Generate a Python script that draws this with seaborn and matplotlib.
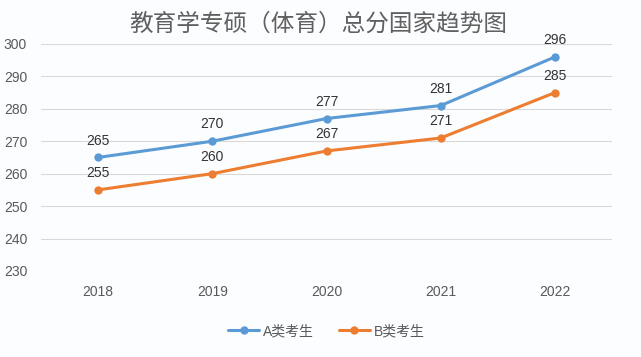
import pandas as pd
import numpy as np
import matplotlib
matplotlib.use("Agg")
import matplotlib.pyplot as plt
import seaborn as sns

years = ["2018", "2019", "2020", "2021", "2022"]
score_a = [265, 270, 277, 281, 296]
score_b = [255, 260, 267, 271, 285]
series_names = ["A类考生", "B类考生"]
title = "教育学专硕（体育）总分国家趋势图"

df = pd.DataFrame({
    "year": years * 2,
    "score": score_a + score_b,
    "group": [series_names[0]] * len(years) + [series_names[1]] * len(years),
})

sns.set_theme(style="white")
plt.rcParams['font.family'] = ['Liberation Sans', 'Noto Sans CJK SC', 'DejaVu Sans']

palette = {series_names[0]: "#5B9BD5", series_names[1]: "#ED7D31"}
text_color = "#595959"

fig = plt.figure(figsize=(6.41, 3.57), dpi=100)
fig.patch.set_facecolor("#FCFDFF")
ax = fig.add_axes([0.064, 0.241, 0.891, 0.636])
ax.set_facecolor("#FCFDFF")

sns.lineplot(data=df, x="year", y="score", hue="group", palette=palette,
             marker="o", markersize=6, markeredgewidth=0, linewidth=2.2,
             ax=ax, legend=True)

ax.set_ylim(230, 300)
ax.set_xlim(-0.5, len(years) - 0.5)
ax.set_yticks(np.arange(230, 301, 10))
ax.grid(axis="y", color="#D9D9D9", linewidth=0.8)
ax.set_axisbelow(True)
for s in ax.spines.values():
    s.set_visible(False)
ax.tick_params(axis="both", length=0, labelsize=10, colors=text_color)
ax.tick_params(axis="x", pad=10)
ax.tick_params(axis="y", pad=10)
ax.set_xlabel("")
ax.set_ylabel("")

# data labels
for vals in (score_a, score_b):
    for i, v in enumerate(vals):
        ax.annotate(str(v), (i, v), xytext=(0, 7), textcoords="offset points",
                    ha="center", va="bottom", fontsize=10, color="#333333")

fig.suptitle(title, x=0.497, y=0.965, fontsize=17, color="#606060",
             family=['Noto Sans CJK SC'], fontweight="light")

handles, labels = ax.get_legend_handles_labels()
ax.legend(handles, labels, loc="center", bbox_to_anchor=(0.5, -0.265),
          ncol=2, frameon=False, fontsize=10, labelcolor=text_color,
          handlelength=2.2, columnspacing=1.8, handletextpad=0.3)

fig.savefig("out.png", dpi=100, facecolor=fig.get_facecolor())
